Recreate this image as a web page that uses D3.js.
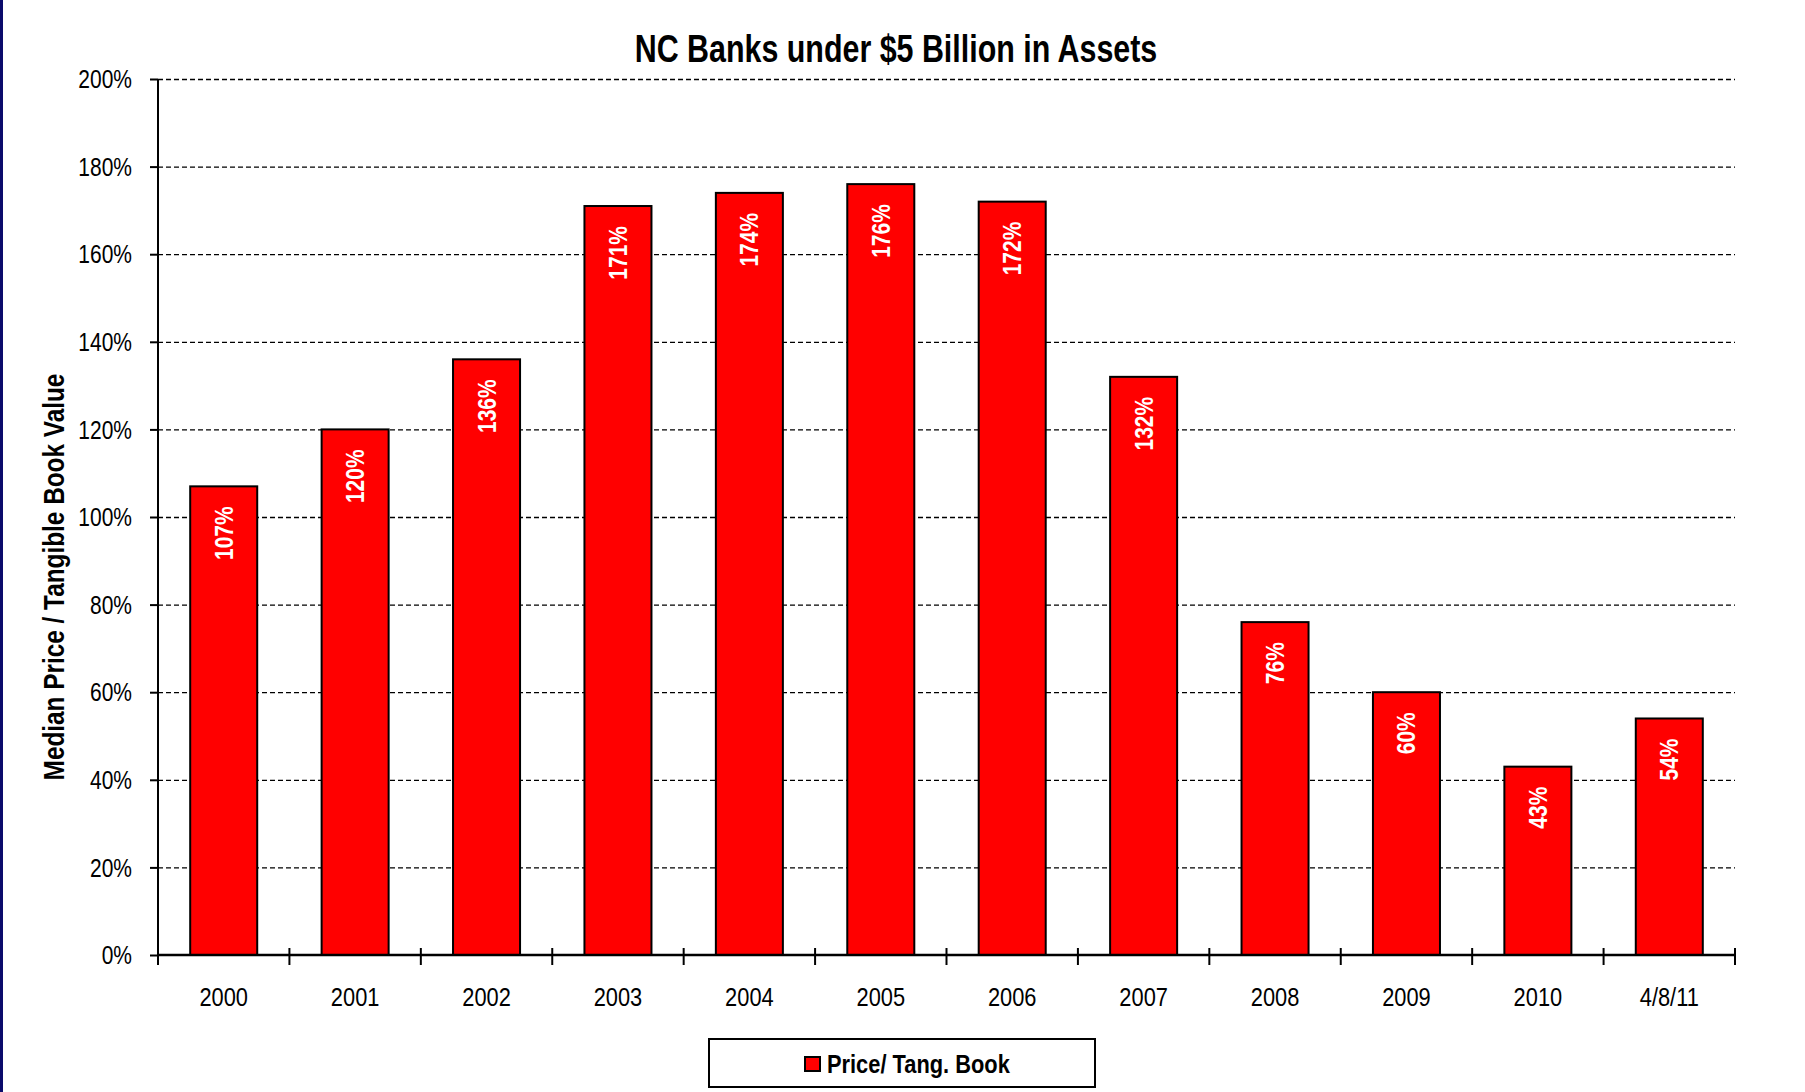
<!DOCTYPE html>
<html>
<head>
<meta charset="utf-8">
<script src="https://cdn.jsdelivr.net/npm/d3@7"></script>
<style>
  body { margin: 0; background: #fff; }
  svg text { font-family: "Liberation Sans Narrow", "Arial Narrow", "Liberation Sans", Arial, sans-serif; }
</style>
</head>
<body>
<svg width="1805" height="1092"></svg>
<script>
var categories = ["2000", "2001", "2002", "2003", "2004", "2005", "2006", "2007", "2008", "2009", "2010", "4/8/11"];
var values = [107, 120, 136, 171, 174, 176, 172, 132, 76, 60, 43, 54];
var yTicks = [0, 20, 40, 60, 80, 100, 120, 140, 160, 180, 200];
var seriesName = "Price/ Tang. Book";

var narrow = 0.84; // no Arial Narrow here, squeeze Liberation Sans instead

var svg = d3.select("svg");
var margin = {top: 79, right: 70, bottom: 137, left: 158};
var width = 1805 - margin.left - margin.right;
var height = 1092 - margin.top - margin.bottom;

// left navy edge
svg.append("rect").attr("x", 0).attr("y", 0).attr("width", 3).attr("height", 1092).style("fill", "#0b0b6b");

var g = svg.append("g").attr("transform", "translate(" + margin.left + "," + margin.top + ")");

var x = d3.scaleBand().domain(categories).range([0, width]).paddingInner(0.49).paddingOuter(0.245);
var xEdge = d3.scaleLinear().domain([0, categories.length]).range([0, width]);
var y = d3.scaleLinear().domain([0, 200]).range([height, 0]);

function label(parent, px, py, rot, txt, sx) {
    return parent.append("text")
        .attr("transform", "translate(" + px + "," + py + ") rotate(" + rot + ") scale(" + (sx || narrow) + ",1)")
        .text(txt);
}

// grid
g.append("g").attr("class", "grid")
  .call(d3.axisLeft(y).tickValues(yTicks.slice(1)).tickSize(-width).tickFormat(""))
  .call(function(a) {
    a.select(".domain").remove();
    a.selectAll("line").style("stroke", "#000").style("stroke-width", 1.3).style("stroke-dasharray", "5,3");
  });

// y axis
g.append("g")
  .call(d3.axisLeft(y).tickValues(yTicks).tickSize(8).tickFormat(function(d) { return d + "%"; }))
  .call(function(a) {
    a.select(".domain").remove();
    a.selectAll("line").style("stroke", "#000").style("stroke-width", 2);
    a.selectAll("text").attr("x", 0).attr("dy", "0.35em")
      .attr("transform", "translate(-26,0) scale(" + narrow + ",1)")
      .style("font-size", "25px").style("fill", "#000");
  });
g.append("line").attr("x1", 0).attr("x2", 0).attr("y1", 0).attr("y2", height)
  .style("stroke", "#000").style("stroke-width", 2);

// bars
g.selectAll("rect.bar").data(values).enter().append("rect").attr("class", "bar")
  .attr("x", function(d, i) { return x(categories[i]); })
  .attr("y", function(d) { return y(d); })
  .attr("width", x.bandwidth())
  .attr("height", function(d) { return height - y(d); })
  .style("fill", "#ff0000").style("stroke", "#000").style("stroke-width", 2);

// bar labels
values.forEach(function(d, i) {
    label(g, x(categories[i]) + x.bandwidth() / 2 + 9, y(d) + 20, -90, d + "%")
      .style("text-anchor", "end").style("font-size", "25px").style("font-weight", "bold").style("fill", "#fff");
});

// x axis
g.append("line").attr("x1", 0).attr("x2", width).attr("y1", height).attr("y2", height)
  .style("stroke", "#000").style("stroke-width", 2.5);
g.selectAll("line.xt").data(d3.range(categories.length + 1)).enter().append("line").attr("class", "xt")
  .attr("x1", function(d) { return xEdge(d); }).attr("x2", function(d) { return xEdge(d); })
  .attr("y1", height - 7).attr("y2", height + 10)
  .style("stroke", "#000").style("stroke-width", 2);
categories.forEach(function(c) {
    label(g, x(c) + x.bandwidth() / 2, height + 51, 0, c)
      .style("text-anchor", "middle").style("font-size", "26px").style("fill", "#000");
});

// titles
label(svg, 896, 62, 0, "NC Banks under $5 Billion in Assets", 0.8)
  .style("text-anchor", "middle").style("font-size", "38px").style("font-weight", "bold");

label(svg, 64, 577, -90, "Median Price / Tangible Book Value")
  .style("text-anchor", "middle").style("font-size", "29px").style("font-weight", "bold");

// legend
var lg = svg.append("g").attr("transform", "translate(709,1039)");
lg.append("rect").attr("width", 386).attr("height", 48).style("fill", "#fff").style("stroke", "#000").style("stroke-width", 2);
lg.append("rect").attr("x", 96).attr("y", 18).attr("width", 15).attr("height", 14)
  .style("fill", "#ff0000").style("stroke", "#000").style("stroke-width", 2);
label(lg, 118, 34, 0, seriesName).style("font-size", "26px").style("font-weight", "bold");
</script>
</body>
</html>
